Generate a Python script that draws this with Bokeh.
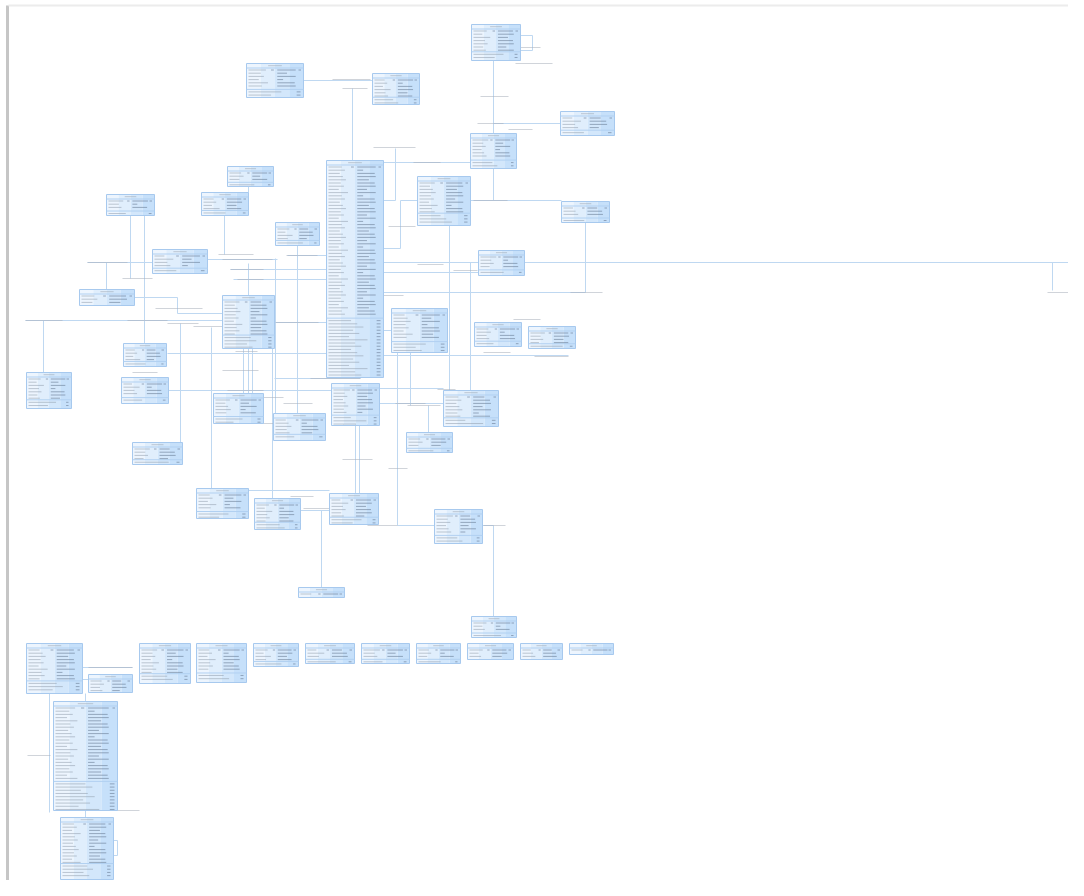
from bokeh.plotting import figure
from bokeh.embed import file_html
from bokeh.resources import INLINE

# ---- tables of the ER diagram (page pixel coordinates: left, top, right, bottom)
table_left = [246, 372, 471, 560, 470, 326, 417, 561, 227, 106, 201, 275, 152, 478, 79, 222,
              391, 474, 528, 123, 26, 121, 331, 443, 213, 273, 406, 132, 196, 254, 329, 434,
              298, 471, 26, 88, 139, 196, 253, 305, 361, 416, 467, 520, 569, 53, 60]
table_top = [63, 73, 24, 111, 133, 160, 176, 201, 166, 194, 192, 222, 249, 250, 289, 295,
             308, 322, 326, 343, 372, 377, 383, 390, 393, 413, 432, 442, 488, 498, 493, 509,
             587, 616, 643, 674, 643, 643, 643, 643, 643, 643, 643, 643, 643, 701, 817]
table_right = [303, 419, 520, 614, 516, 383, 470, 609, 273, 154, 248, 319, 207, 524, 134, 274,
               447, 521, 575, 166, 71, 168, 379, 498, 263, 325, 452, 182, 248, 300, 378, 482,
               344, 516, 82, 132, 190, 246, 298, 354, 409, 460, 513, 562, 613, 117, 113]
table_bottom = [97, 104, 60, 135, 168, 377, 225, 222, 186, 215, 215, 245, 273, 275, 305, 348,
                352, 346, 348, 366, 408, 403, 425, 426, 423, 440, 452, 464, 518, 529, 524, 543,
                597, 637, 693, 692, 683, 682, 666, 663, 663, 663, 659, 659, 654, 810, 879]

# ---- relationship connectors (polylines)
link_xs = [[303, 372], [352, 352], [493, 493], [520, 532, 532, 520], [493, 560], [383, 470],
           [383, 395, 395], [493, 493], [470, 561], [417, 400, 400, 383], [383, 478],
           [524, 1068], [1052, 1052], [383, 478], [585, 585, 383], [449, 449], [470, 470],
           [383, 391], [383, 568], [397, 397, 434], [410, 410], [428, 428], [377, 443],
           [377, 443], [482, 493, 493], [355, 355], [359, 359], [130, 130], [144, 144],
           [87, 152], [106, 106], [224, 224], [248, 248], [248, 248], [287, 326], [207, 277],
           [230, 326], [233, 326], [275, 275], [297, 297], [25, 222], [43, 43],
           [134, 177, 177, 222], [180, 180], [211, 211], [167, 326], [168, 331], [274, 360],
           [243, 243], [248, 248], [252, 252], [272, 272], [248, 329], [300, 329], [321, 321],
           [274, 326], [82, 132], [82, 88], [49, 49], [85, 85], [85, 85], [113, 117, 117, 113]]
link_ys = [[80, 80], [88, 160], [60, 133], [35, 35, 50, 50], [123, 123], [162, 162],
           [200, 200, 148], [168, 200], [200, 200], [200, 200, 248, 248], [262, 262],
           [262, 262], [262, 290], [272, 272], [222, 292, 292], [225, 390], [262, 390],
           [330, 330], [355, 355], [352, 525, 525], [352, 405], [405, 432], [403, 403],
           [388, 388], [525, 525, 616], [425, 493], [425, 493], [215, 278], [215, 343],
           [262, 262], [262, 289], [215, 254], [186, 192], [263, 295], [255, 255], [259, 259],
           [269, 269], [279, 279], [258, 413], [245, 413], [320, 320], [320, 372],
           [297, 297, 313, 313], [323, 442], [327, 488], [353, 353], [390, 390], [378, 378],
           [348, 393], [348, 393], [348, 393], [348, 498], [490, 490], [510, 510], [510, 587],
           [322, 322], [667, 667], [679, 679], [693, 812], [693, 701], [810, 817],
           [840, 840, 855, 855]]

# ---- relationship name labels (start x, y, length)
label_x = [332, 342, 480, 515, 520, 477, 508, 373, 413, 388, 473, 417, 453, 570, 383, 1047,
           87, 122, 218, 222, 230, 237, 286, 25, 127, 155, 167, 193, 275, 132, 222, 235, 227,
           263, 283, 310, 262, 290, 303, 342, 388, 367, 483, 513, 483, 534, 395, 407, 437, 340,
           88, 27, 63, 95]
label_y = [79, 88, 96, 63, 47, 123, 129, 147, 162, 226, 200, 264, 270, 292, 295, 292,
           262, 278, 254, 259, 269, 279, 255, 320, 320, 308, 323, 326, 322, 372, 370, 351, 390,
           397, 403, 378, 423, 496, 508, 459, 468, 525, 525, 319, 352, 356, 403, 405, 389, 424,
           667, 755, 810, 810]
label_len = [38, 25, 28, 37, 20, 26, 24, 42, 27, 27, 34, 26, 24, 32, 20, 21,
             40, 30, 35, 50, 33, 26, 31, 37, 40, 47, 31, 30, 43, 25, 36, 22, 36,
             20, 29, 50, 20, 23, 27, 30, 19, 30, 22, 27, 27, 34, 30, 33, 18, 32,
             44, 23, 27, 44]

# ------------------------------------------------------------------
p = figure(width=1068, height=880, x_range=(0, 1068), y_range=(880, 0),
           output_backend="svg", toolbar_location=None, min_border=0,
           outline_line_color=None, background_fill_color="white")
p.axis.visible = False
p.grid.visible = False

# page card edges (shadow on the left, faint on top)
p.segment(x0=[7], y0=[5], x1=[7], y1=[880], line_color="#c6c6c6", line_width=3)
p.segment(x0=[8], y0=[5], x1=[1068], y1=[5], line_color="#ececec", line_width=2)

# connectors under the tables
p.multi_line(xs=link_xs, ys=link_ys, line_color="#bfd8f1", line_width=1)

# relationship labels (tiny, illegible in the source image)
p.segment(x0=label_x, y0=label_y,
          x1=[x + l for x, l in zip(label_x, label_len)], y1=label_y,
          line_color="#a9b1bb", line_width=1, line_alpha=0.55)

# tables: horizontal gradient made of strips
strip_cols = ["#edf5fe", "#e0eefc", "#d3e7fb", "#c6e0fa"]
for k, col in enumerate(strip_cols):
    lefts = [l + (r - l) * k / 4 for l, r in zip(table_left, table_right)]
    rights = [l + (r - l) * (k + 1) / 4 for l, r in zip(table_left, table_right)]
    p.quad(left=lefts, right=rights, top=table_top, bottom=table_bottom,
           fill_color=col, line_color=None)
p.quad(left=table_left, right=table_right, top=table_top, bottom=table_bottom,
       fill_color=None, line_color="#a7c9ee", line_width=1)

# table contents drawn as text-like strokes
name_cycle = [0.85, 0.6, 0.75, 0.5, 0.95, 0.65, 0.8, 0.55, 0.7]
type_cycle = [0.95, 0.5, 0.95, 0.3, 0.9, 0.95, 0.6, 0.9]
nx0, nx1, ny = [], [], []
tx0, tx1, ty = [], [], []
sx0, sx1, sy = [], [], []
hx0, hx1, hy = [], [], []
for i, (l, t, r, b) in enumerate(zip(table_left, table_top, table_right, table_bottom)):
    w = r - l
    h = b - t
    hx0.append(l + w * 0.38); hx1.append(l + w * 0.62); hy.append(t + 2.2)
    sx0.append(l); sx1.append(r); sy.append(t + 4.5)
    if h > 18:
        ysep = t + 5 + (h - 5) * 0.72
        sx0.append(l); sx1.append(r); sy.append(ysep)
    else:
        ysep = b - 0.5
    k = 0
    y = t + 6.5
    while y < ysep - 1:
        f = name_cycle[(k + i) % len(name_cycle)]
        g = type_cycle[(k + 2 * i) % len(type_cycle)]
        nx0.append(l + 2); nx1.append(l + 2 + w * 0.36 * f); ny.append(y)
        tx0.append(l + w * 0.54); tx1.append(l + w * 0.54 + w * 0.34 * g); ty.append(y)
        if k == 0:
            tx0.append(l + w * 0.43); tx1.append(l + w * 0.48); ty.append(y)
            tx0.append(r - 5); tx1.append(r - 2.5); ty.append(y)
        k += 1
        y += 3.2
    y = ysep + 2.5
    while y < b - 1:
        f = name_cycle[(k + i) % len(name_cycle)]
        nx0.append(l + 2); nx1.append(l + 2 + w * 0.72 * f); ny.append(y)
        tx0.append(r - w * 0.12); tx1.append(r - 3); ty.append(y)
        k += 1
        y += 3.2

p.segment(x0=sx0, y0=sy, x1=sx1, y1=sy, line_color="#b1d0f1", line_width=1)
p.segment(x0=hx0, y0=hy, x1=hx1, y1=hy, line_color="#9aa4b0", line_width=1, line_alpha=0.55)
p.segment(x0=nx0, y0=ny, x1=nx1, y1=ny, line_color="#909cab", line_width=1, line_alpha=0.55)
p.segment(x0=tx0, y0=ty, x1=tx1, y1=ty, line_color="#687a92", line_width=1, line_alpha=0.6)

open("out.html", "w").write(file_html(p, INLINE))
